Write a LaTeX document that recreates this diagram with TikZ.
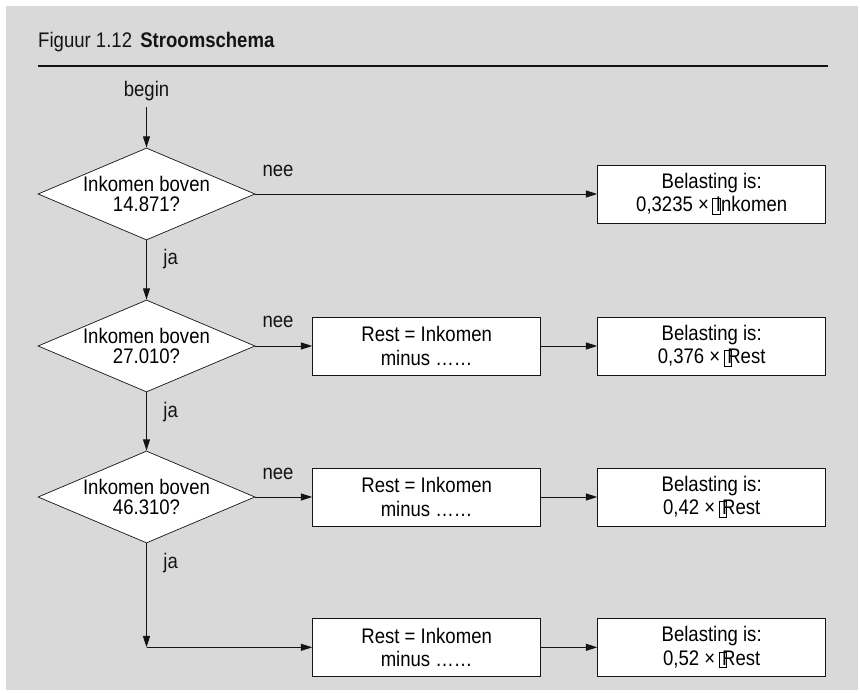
\documentclass[tikz,border=0pt]{standalone}
\usepackage{fontspec}
\setmainfont{Liberation Sans}[FakeStretch=0.88]
\usepackage{tikz}
\usetikzlibrary{shapes.geometric, arrows.meta, calc}
\definecolor{bggray}{RGB}{217,217,217}
\definecolor{mydark}{RGB}{20,20,20}
\newcommand{\missbox}{\hspace{3pt}\makebox[0pt][l]{\raisebox{-2pt}{\setlength{\fboxsep}{0pt}\setlength{\fboxrule}{0.5pt}\fbox{\rule{0pt}{13pt}\hspace{6pt}}}}\hspace{3pt}}
\tikzset{
  decision/.style={diamond, shape aspect=2.36, draw=mydark, fill=white,
    minimum width=6.51cm, minimum height=2.76cm, inner xsep=0pt, inner ysep=-0.15cm,
    execute at begin node={\rule{0pt}{21pt}},
    align=center, font=\fontsize{18pt}{17.7pt}\selectfont, line width=0.6pt},
  block/.style={rectangle, draw=mydark, fill=white,
    minimum width=6.84cm, minimum height=1.74cm, inner sep=0pt,
    align=center, font=\fontsize{18pt}{19.8pt}\selectfont, line width=0.7pt},
  lbl/.style={inner sep=0pt, font=\fontsize{18pt}{18pt}\selectfont, text=mydark},
  arrow/.style={-{Triangle[length=3.4mm, width=2.1mm]}, line width=0.8pt, color=mydark},
  line/.style={line width=0.8pt, color=mydark}
}

\begin{document}
\begin{tikzpicture}
  % Frame
  \useasboundingbox[fill=white] (0,0) rectangle (25.8,20.79);
  \fill[bggray] (0.18,0.09) rectangle (25.74,20.61);

  % Title
  \node[lbl, anchor=base west] (title) at (1.14,19.35) {Figuur 1.12\hspace{7pt}\textbf{Stroomschema}};
  \coordinate (rule_l) at (1.14,18.81);
  \coordinate (rule_r) at (24.84,18.81);
  \draw[line width=1.6pt, color=mydark] (rule_l) -- (rule_r);

  % Start
  \node[lbl, inner sep=5pt, anchor=base] (begin) at (4.395,17.88) {begin};

  % Decisions
  \node[decision] (dec1) at (4.395,14.97) {Inkomen boven\\14.871?};
  \node[decision] (dec2) at (4.395,10.41) {Inkomen boven\\27.010?};
  \node[decision] (dec3) at (4.395,5.88) {Inkomen boven\\46.310?};

  % Rest blocks
  \node[block] (rest2) at (12.8,10.41) {Rest = Inkomen\\minus ……};
  \node[block] (rest3) at (12.8,5.88) {Rest = Inkomen\\minus ……};
  \node[block] (rest4) at (12.8,1.37) {Rest = Inkomen\\minus ……};

  % Tax blocks
  \node[block] (tax1) at (21.35,14.97) {Belasting is:\\0,3235 ×\missbox Inkomen};
  \node[block] (tax2) at (21.35,10.41) {Belasting is:\\0,376 ×\missbox Rest};
  \node[block] (tax3) at (21.35,5.88) {Belasting is:\\0,42 ×\missbox Rest};
  \node[block] (tax4) at (21.35,1.37) {Belasting is:\\0,52 ×\missbox Rest};

  \coordinate (corner) at (4.395,1.37);

  % Connections
  \draw[arrow] (begin.south) -- (dec1.north);
  \draw[arrow] (dec1.east) -- (tax1.west);
  \draw[arrow] (dec1.south) -- (dec2.north);
  \draw[arrow] (dec2.east) -- (rest2.west);
  \draw[arrow] (rest2.east) -- (tax2.west);
  \draw[arrow] (dec2.south) -- (dec3.north);
  \draw[arrow] (dec3.east) -- (rest3.west);
  \draw[arrow] (rest3.east) -- (tax3.west);
  \draw[arrow] (dec3.south) -- (corner);
  \draw[arrow] (corner) -- (rest4.west);
  \draw[arrow] (rest4.east) -- (tax4.west);

  % Labels
  \node[lbl, anchor=base west] (nee1) at ($(dec1.east)+(0.21,0.51)$) {nee};
  \node[lbl, anchor=base west] (nee2) at ($(dec2.east)+(0.21,0.56)$) {nee};
  \node[lbl, anchor=base west] (nee3) at ($(dec3.east)+(0.21,0.51)$) {nee};
  \node[lbl, anchor=base west] (ja1) at ($(dec1.south)+(0.5,-0.73)$) {ja};
  \node[lbl, anchor=base west] (ja2) at ($(dec2.south)+(0.5,-0.75)$) {ja};
  \node[lbl, anchor=base west] (ja3) at ($(dec3.south)+(0.5,-0.74)$) {ja};
\end{tikzpicture}
\end{document}
